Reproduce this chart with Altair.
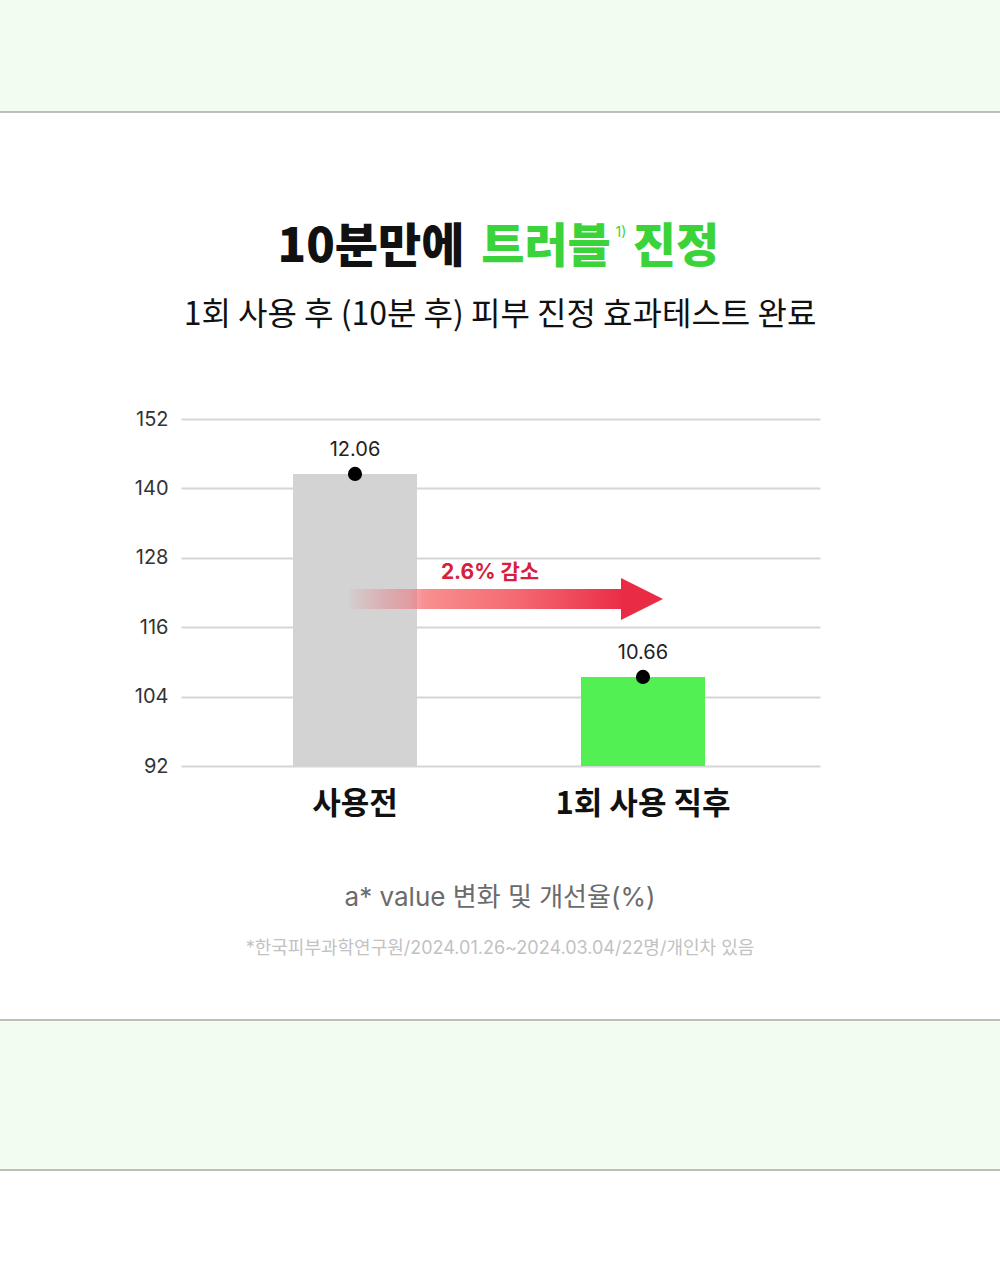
import altair as alt
import pandas as pd

# ---- data ----
categories = ["사용전", "1회 사용 직후"]
values = [142.5, 107.4]
value_labels = ["12.06", "10.66"]
bar_colors = ["#d3d3d3", "#52f052"]
y_ticks = [92, 104, 116, 128, 140, 152]
title_black = "10분만에"
title_green = "트러블"
title_sup = "1)"
title_end = "진정"
subtitle = "1회 사용 후 (10분 후) 피부 진정 효과테스트 완료"
arrow_label = "2.6% 감소"
caption = "a* value 변화 및 개선율(%)"
footnote = "*한국피부과학연구원/2024.01.26~2024.03.04/22명/개인차 있음"

df = pd.DataFrame({"cat": categories, "val": values, "lab": value_labels, "col": bar_colors})
one = pd.DataFrame({"k": [0]})

OX, OY = 181, 419  # plot origin on the page
W, H = 639, 347
PAGE_W, PAGE_H = 1000, 1280


def px(x):
    return x - OX


def py(y):
    return y - OY


FONT = "Inter, Noto Sans CJK KR"
KR = "Noto Sans CJK KR"
BAND = "#f2fdf0"
LINE = "#bdbdbd"

xs = alt.X("cat:N", sort=categories,
           scale=alt.Scale(domain=categories, paddingInner=0.5694, paddingOuter=0.3941, align=0.4934),
           axis=alt.Axis(title=None, domain=False, ticks=False, labelAngle=0,
                         labelFont=KR, labelFontSize=31, labelFontWeight=700,
                         labelColor="#111111", labelPadding=23))
ys = alt.Y("val:Q", scale=alt.Scale(domain=[92, 152], zero=False, nice=False),
           axis=alt.Axis(title=None, domain=False, ticks=False, values=y_ticks,
                         labelFont=FONT, labelFontSize=20, labelColor="#333333",
                         labelPadding=13, gridColor="#d6d6d6", gridWidth=2))

base = alt.Chart(df)

bars = base.mark_bar().encode(
    x=xs, y=ys, y2=alt.datum(92),
    color=alt.Color("col:N", scale=None),
)
dots = base.mark_circle(size=200, color="#000000", opacity=1).encode(x="cat:N", y="val:Q")
vlabels = base.mark_text(dy=-24, fontSize=20, font=FONT, color="#222222").encode(
    x="cat:N", y="val:Q", text="lab:N")

deco = alt.Chart(one)


def band(y1, y2):
    return deco.mark_rect(fill=BAND).encode(
        x=alt.value(px(0)), x2=alt.value(px(PAGE_W)), y=alt.value(py(y1)), y2=alt.value(py(y2)))


def hline(y):
    return deco.mark_rule(color=LINE, strokeWidth=2).encode(
        x=alt.value(px(0)), x2=alt.value(px(PAGE_W)), y=alt.value(py(y)))


def txt(s, x, y, size, color, weight=400, font=KR, align="center"):
    return deco.mark_text(text=s, fontSize=size, color=color, fontWeight=weight, font=font,
                          align=align, baseline="middle").encode(
        x=alt.value(px(x)), y=alt.value(py(y)))


grad = alt.LinearGradient(
    gradient="linear",
    stops=[
        alt.GradientStop(color="rgba(235,60,75,0.03)", offset=0),
        alt.GradientStop(color="rgba(240,90,100,0.45)", offset=0.22),
        alt.GradientStop(color="#f88e8e", offset=0.28),
        alt.GradientStop(color="#f46a72", offset=0.6),
        alt.GradientStop(color="#ea2b45", offset=1),
    ],
    x1=0, x2=1, y1=0, y2=0,
)

shaft = deco.mark_rect(fill=grad).encode(
    x=alt.value(px(350)), x2=alt.value(px(626)), y=alt.value(py(589)), y2=alt.value(py(609)))
head = deco.mark_point(shape="M-1,-1L1,0L-1,1Z", size=1764, filled=True, fill="#ea2b45",
                       opacity=1, strokeWidth=0).encode(
    x=alt.value(px(642)), y=alt.value(py(599)))

layers = [
    band(0, 112), hline(112),
    band(1020, 1170), hline(1020), hline(1170),
    txt(title_black, 371, 248, 47, "#111111", 900),
    txt(title_green, 546, 248, 47, "#3ad33a", 900),
    txt(title_sup, 621, 233, 14, "#3ad33a", 400, FONT),
    txt(title_end, 676, 248, 47, "#3ad33a", 900),
    txt(subtitle, 500, 315, 32, "#111111", 400),
    bars, dots, vlabels,
    shaft, head,
    txt(arrow_label, 490, 573, 21, "#d6203d", 700, FONT),
    txt(caption, 500, 898, 26, "#6b6b6b", 400, FONT),
    txt(footnote, 500, 949, 18, "#c2c2c2", 400, FONT),
]

chart = alt.layer(*layers).properties(
    width=W, height=H,
    autosize=alt.AutoSizeParams(type="none"),
    padding={"left": OX, "top": OY, "right": PAGE_W - OX - W, "bottom": PAGE_H - OY - H},
    background="#ffffff",
).configure_view(stroke=None)

chart.save("out.html", embed_options={"renderer": "svg", "actions": False})
